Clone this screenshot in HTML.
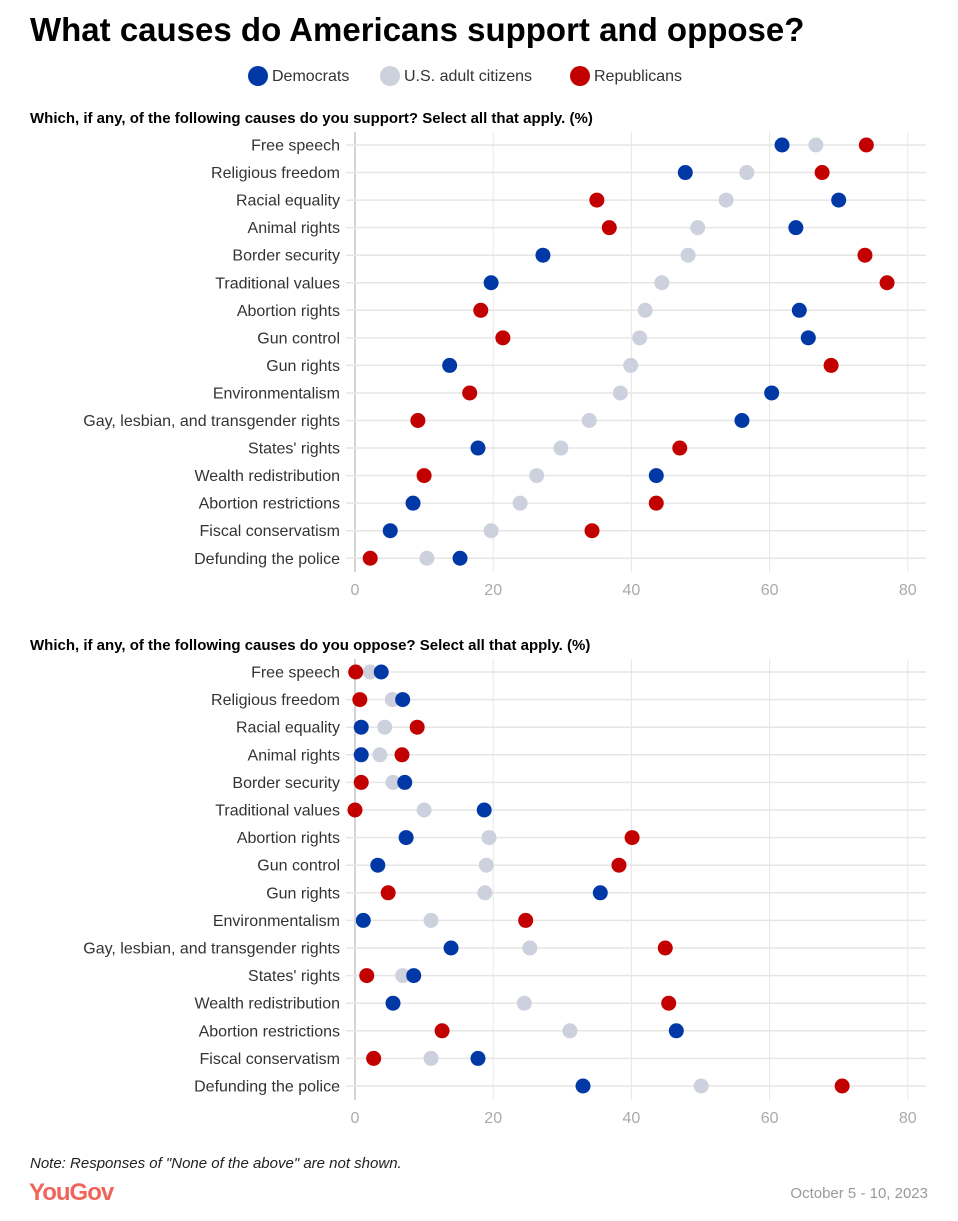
<!DOCTYPE html>
<html><head><meta charset="utf-8"><style>
body{margin:0;background:#fff;font-family:"Liberation Sans",sans-serif}
svg text{font-family:"Liberation Sans",sans-serif}
</style></head><body>
<svg id="chart" width="958" height="1216" viewBox="0 0 958 1216">
<text x="30" y="41" font-size="33" font-weight="bold" fill="#000">What causes do Americans support and oppose?</text>
<g>
<circle cx="258" cy="76" r="10" fill="#0039a6"/>
<text x="272" y="81" font-size="16" fill="#333">Democrats</text>
<circle cx="390" cy="76" r="10" fill="#cdd1dd"/>
<text x="404" y="81" font-size="16" fill="#333">U.S. adult citizens</text>
<circle cx="580" cy="76" r="10" fill="#c20000"/>
<text x="594" y="81" font-size="16" fill="#333">Republicans</text>
</g>
<text x="30" y="123" font-size="15" font-weight="bold" fill="#000">Which, if any, of the following causes do you support? Select all that apply. (%)</text>
<text x="30" y="650" font-size="15" font-weight="bold" fill="#000">Which, if any, of the following causes do you oppose? Select all that apply. (%)</text>
<g id="p1"></g>
<g id="p2"></g>
<text x="30" y="1168" font-size="15" font-style="italic" fill="#222">Note: Responses of "None of the above" are not shown.</text>
<text x="29" y="1200" font-size="24" font-weight="bold" fill="#f0645a" letter-spacing="-1">YouGov</text>
<text x="928" y="1198" font-size="15" fill="#999" text-anchor="end">October 5 - 10, 2023</text>
</svg>
<script>
const categories=["Free speech","Religious freedom","Racial equality","Animal rights","Border security","Traditional values","Abortion rights","Gun control","Gun rights","Environmentalism","Gay, lesbian, and transgender rights","States' rights","Wealth redistribution","Abortion restrictions","Fiscal conservatism","Defunding the police"];
const ticks=[0,20,40,60,80];
const supDem=[61.8,47.8,70.0,63.8,27.2,19.7,64.3,65.6,13.7,60.3,56.0,17.8,43.6,8.4,5.1,15.2];
const supUS=[66.7,56.7,53.7,49.6,48.2,44.4,42.0,41.2,39.9,38.4,33.9,29.8,26.3,23.9,19.7,10.4];
const supRep=[74.0,67.6,35.0,36.8,73.8,77.0,18.2,21.4,68.9,16.6,9.1,47.0,10.0,43.6,34.3,2.2];
const oppDem=[3.8,6.9,0.9,0.9,7.2,18.7,7.4,3.3,35.5,1.2,13.9,8.5,5.5,46.5,17.8,33.0];
const oppUS=[2.2,5.4,4.3,3.6,5.5,10.0,19.4,19.0,18.8,11.0,25.3,6.9,24.5,31.1,11.0,50.1];
const oppRep=[0.1,0.7,9.0,6.8,0.9,0.0,40.1,38.2,4.8,24.7,44.9,1.7,45.4,12.6,2.7,70.5];
const NS="http://www.w3.org/2000/svg";
const x=v=>355+v*6.91;
function mk(tag,attrs,parent){const e=document.createElementNS(NS,tag);for(const k in attrs)e.setAttribute(k,attrs[k]);parent.appendChild(e);return e;}
function panel(g,y0,step,top,bottom,tickY,D,U,R,prefix){
  ticks.forEach(t=>{
    const l=mk('line',{x1:x(t),x2:x(t),y1:top,y2:bottom,stroke:t===0?'#aaa':'#e6e6e6','stroke-width':1},g);
    
    
    const tx=mk('text',{x:x(t),y:tickY,'font-size':16,fill:'#aaa','text-anchor':'middle'},g);
    tx.textContent=t;
    
    
  });
  categories.forEach((c,i)=>{
    const y=y0+i*step;
    const l=mk('line',{x1:346,x2:926,y1:y,y2:y,stroke:'#e6e6e6','stroke-width':1.5},g);
    
    
    const t=mk('text',{x:340,y:y+5.5,'font-size':16,fill:'#333','text-anchor':'end'},g);
    t.textContent=c;
    
    
    [[U,'#cdd1dd','citizens'],[D,'#0039a6','democrats'],[R,'#c20000','republicans']].forEach(([arr,col,n])=>{
      const d=mk('circle',{cx:x(arr[i]),cy:y,r:7.5,fill:col},g);
      
      
    });
  });
}
panel(document.getElementById('p1'),145,27.55,132,572,595,supDem,supUS,supRep,'support');
panel(document.getElementById('p2'),672,27.6,659,1100,1123,oppDem,oppUS,oppRep,'oppose');
</script>
</body></html>
